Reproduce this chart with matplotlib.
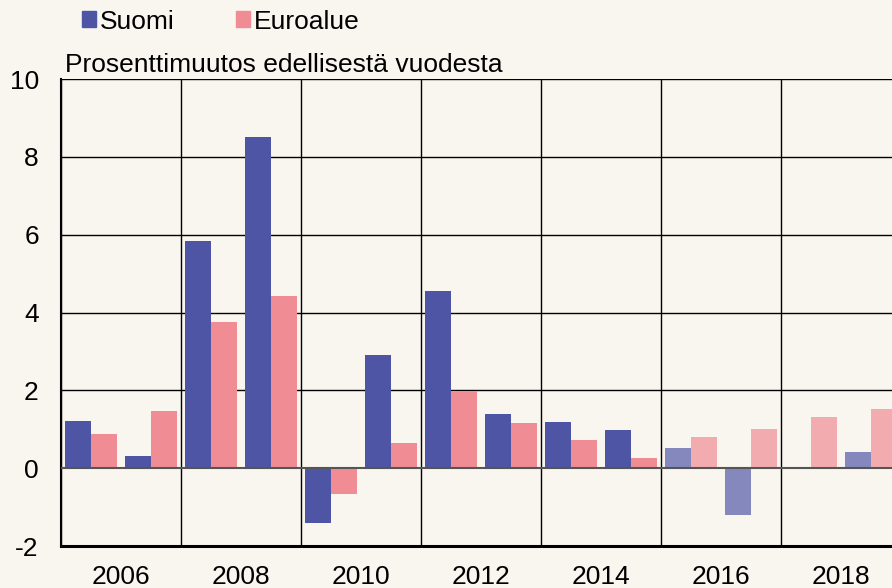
import matplotlib.pyplot as plt
from matplotlib.patches import Patch
import numpy as np

plt.rcParams['font.family'] = ['Liberation Sans', 'DejaVu Sans']
plt.rcParams['axes.unicode_minus'] = False

years = np.arange(2006, 2020)
suomi = [1.2, 0.32, 5.84, 8.5, -1.42, 2.9, 4.55, 1.4, 1.18, 0.98, 0.52, -1.21, 0.0, 0.42]
euroalue = [0.88, 1.48, 3.75, 4.42, -0.67, 0.64, 1.98, 1.17, 0.72, 0.27, 0.8, 1.0, 1.32, 1.52]
forecast_from = 2016

bg = '#F9F5EF'
c_suomi, c_suomi_light = '#4F55A5', '#8488BC'
c_euro, c_euro_light = '#F08C94', '#F2ABAE'
fs = 19

fig = plt.figure(figsize=(8.92, 5.88), dpi=100, facecolor=bg)
ax = fig.add_axes([61 / 892, 42 / 588, 840 / 892, 467 / 588])
ax.set_facecolor(bg)

w = 0.433
is_fc = years >= forecast_from
ax.bar(years - w / 2, suomi, width=w,
       color=[c_suomi_light if f else c_suomi for f in is_fc], zorder=3)
ax.bar(years + w / 2, euroalue, width=w,
       color=[c_euro_light if f else c_euro for f in is_fc], zorder=3)

ax.set_xlim(2005.5, 2019.5)
ax.set_ylim(-2, 10)
ax.set_yticks(range(-2, 11, 2))
ax.set_xticks(years[::2] + 0.5)
ax.set_xticklabels([str(y) for y in years[::2]])
ax.tick_params(length=0, labelsize=fs)
ax.tick_params(axis='y', pad=16)
ax.tick_params(axis='x', pad=14)

for y in range(2, 11, 2):
    ax.axhline(y, color='black', lw=1.0, zorder=1)
ax.axhline(0, color='#555555', lw=1.5, zorder=4)
for x in years[::2] - 0.5:
    ax.axvline(x, color='black', lw=1.0, zorder=1)

for s in ['top', 'right']:
    ax.spines[s].set_visible(False)
ax.spines['left'].set_linewidth(1.5)
ax.spines['bottom'].set_linewidth(2.2)

fig.text(65 / 892, 1 - 72 / 588, 'Prosenttimuutos edellisestä vuodesta',
         fontsize=fs, va='baseline', ha='left')

handles = [Patch(color=c_suomi, label='Suomi'), Patch(color=c_euro, label='Euroalue')]
fig.legend(handles=handles, loc='upper left', bbox_to_anchor=(58 / 892, 1.024),
           ncol=2, frameon=False, fontsize=fs, handlelength=0.55, handleheight=0.55,
           handletextpad=0.15, columnspacing=2.3)

fig.savefig('out.png', dpi=100, facecolor=bg)
